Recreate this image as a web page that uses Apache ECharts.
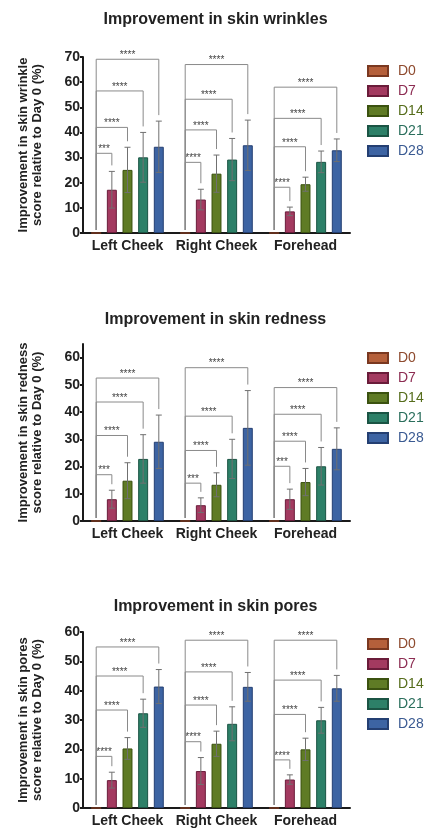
<!DOCTYPE html>
<html>
<head>
<meta charset="utf-8">
<script src="https://cdn.jsdelivr.net/npm/echarts@6/dist/echarts.min.js"></script>
<style>
html,body{margin:0;padding:0;background:#ffffff;}
#chart{width:431px;height:837px;}
</style>
</head>
<body>
<div id="chart"></div>
<script>
// ---------- DATA ----------
const categories = ['Left Cheek', 'Right Cheek', 'Forehead'];
const seriesNames = ['D0', 'D7', 'D14', 'D21', 'D28'];
const titles = ['Improvement in skin wrinkles', 'Improvement in skin redness', 'Improvement in skin pores'];
const yNames = [
  'Improvement in skin wrinkle\nscore relative to Day 0 (%)',
  'Improvement in skin redness\nscore relative to Day 0 (%)',
  'Improvement in skin pores\nscore relative to Day 0 (%)'
];
const yMax = [70, 65, 60];
const yTicks = [
  [0, 10, 20, 30, 40, 50, 60, 70],
  [0, 10, 20, 30, 40, 50, 60],
  [0, 10, 20, 30, 40, 50, 60]
];

// means: rows = D0, D7, D14, D21, D28 ; columns = categories
const wrinkleMean = [
  [0, 0, 0],
  [17.2, 13.3, 8.6],
  [25.1, 23.6, 19.4],
  [30.1, 29.2, 28.3],
  [34.3, 34.9, 32.9]
];
const wrinkleSD = [
  [0, 0, 0],
  [7.3, 4.1, 1.7],
  [9.0, 7.4, 2.8],
  [9.9, 8.4, 4.3],
  [10.2, 10.0, 4.5]
];
const wrinkleBracket = [ // per category: D7, D14, D21, D28 vs D0
  [31.7, 42.0, 56.5, 69.1],
  [28.1, 41.0, 53.2, 67.0],
  [18.2, 34.3, 45.6, 58.0]
];
const wrinkleStars = [
  ['***', '****', '****', '****'],
  ['****', '****', '****', '****'],
  ['****', '****', '****', '****']
];

const rednessMean = [
  [0, 0, 0],
  [8.0, 5.8, 8.0],
  [14.8, 13.3, 14.3],
  [22.8, 22.8, 20.1],
  [29.1, 34.2, 26.5]
];
const rednessSD = [
  [0, 0, 0],
  [3.3, 2.7, 3.7],
  [6.6, 4.4, 5.0],
  [8.9, 7.2, 6.9],
  [9.8, 13.7, 7.7]
];
const rednessBracket = [
  [17.0, 31.4, 43.7, 52.5],
  [13.9, 25.9, 38.5, 56.3],
  [20.1, 29.3, 39.2, 49.0]
];
const rednessStars = [
  ['***', '****', '****', '****'],
  ['***', '****', '****', '****'],
  ['***', '****', '****', '****']
];

const poresMean = [
  [0, 0, 0],
  [9.5, 12.6, 9.7],
  [20.3, 21.9, 20.0],
  [32.3, 28.7, 29.9],
  [41.4, 41.3, 40.8]
];
const poresSD = [
  [0, 0, 0],
  [2.7, 4.6, 1.6],
  [3.7, 4.3, 3.8],
  [4.8, 5.8, 4.4],
  [5.8, 4.9, 4.4]
];
const poresBracket = [
  [17.6, 33.4, 45.0, 54.9],
  [22.6, 35.1, 46.4, 57.2],
  [16.4, 31.9, 43.6, 57.2]
];
const poresStars = [
  ['****', '****', '****', '****'],
  ['****', '****', '****', '****'],
  ['****', '****', '****', '****']
];

// ---------- STYLE ----------
const fillColors = ['#b5603b', '#a33a60', '#5f7b25', '#2d8068', '#3d64a3'];
const borderColors = ['#7a3820', '#6a1c3a', '#3b5210', '#1b5444', '#243f72'];
const legendText = ['#8e4a2e', '#8c2c52', '#566d1c', '#2a6e5c', '#3a5a92'];
const FONT = '"Liberation Sans", Arial, sans-serif';
const BAR_FRAC = 0.112;
const GAP_FRAC = 0.57;

const grids = [
  { left: 83, top: 57, width: 267, height: 176 },
  { left: 83, top: 344, width: 267, height: 177 },
  { left: 83, top: 632, width: 267, height: 176 }
];
const titleTops = [7, 307, 594];
const legendTops = [59, 346, 632];

const means = [wrinkleMean, rednessMean, poresMean];
const sds = [wrinkleSD, rednessSD, poresSD];
const brackets = [wrinkleBracket, rednessBracket, poresBracket];
const stars = [wrinkleStars, rednessStars, poresStars];

function barX(api, c, bi) {
  const center = api.coord([c, 0]);
  const band = api.size([1, 0])[0];
  const w = band * BAR_FRAC;
  const step = w * (1 + GAP_FRAC);
  return center[0] + (bi - 2) * step;
}

const option = {
  animation: false,
  backgroundColor: '#ffffff',
  title: titles.map((t, i) => ({
    text: t, left: 'center', top: titleTops[i],
    textStyle: { fontFamily: FONT, fontSize: 16, fontWeight: 'bold', color: '#222' }
  })),
  legend: legendTops.map(top => ({
    orient: 'vertical', left: 362, top: top, icon: 'rect',
    itemWidth: 20, itemHeight: 10, itemGap: 6,
    data: seriesNames.map((n, k) => ({ name: n, textStyle: { color: legendText[k] } })),
    textStyle: { fontFamily: FONT, fontSize: 14, padding: [0, 0, 0, 5] },
    selectedMode: false
  })),
  grid: grids,
  xAxis: grids.map((g, i) => ({
    type: 'category', gridIndex: i, data: categories,
    axisLine: { lineStyle: { color: '#1a1a1a', width: 2 } },
    axisTick: { show: false },
    axisLabel: { interval: 0, fontFamily: FONT, fontSize: 14, fontWeight: 'bold', color: '#222', margin: 6 }
  })),
  yAxis: grids.map((g, i) => ({
    type: 'value', gridIndex: i, min: 0, max: yMax[i], interval: 10,
    name: yNames[i], nameLocation: 'middle', nameGap: 39,
    nameTextStyle: { fontFamily: FONT, fontSize: 13, fontWeight: 'bold', color: '#222', lineHeight: 14 },
    axisLine: { show: true, lineStyle: { color: '#1a1a1a', width: 2 } },
    axisTick: { show: true, length: 3, customValues: yTicks[i], lineStyle: { color: '#1a1a1a', width: 2 } },
    axisLabel: { customValues: yTicks[i], fontFamily: FONT, fontSize: 14, fontWeight: 'bold', color: '#222', margin: 3 },
    splitLine: { show: false }
  })),
  series: []
};

for (let gi = 0; gi < 3; gi++) {
  seriesNames.forEach((name, k) => {
    option.series.push({
      type: 'bar', name: name, xAxisIndex: gi, yAxisIndex: gi,
      data: means[gi][k],
      barWidth: (BAR_FRAC * 100) + '%', barGap: (GAP_FRAC * 100) + '%',
      itemStyle: { color: fillColors[k], borderColor: borderColors[k], borderWidth: 1 },
      z: 2
    });
  });
  // error bars
  const errData = [];
  for (let k = 1; k < 5; k++) {
    for (let c = 0; c < 3; c++) {
      errData.push([c, k, means[gi][k][c], sds[gi][k][c]]);
    }
  }
  option.series.push({
    type: 'custom', name: 'err' + gi, xAxisIndex: gi, yAxisIndex: gi, silent: true, z: 6,
    data: errData, encode: { x: 0, y: 2 },
    renderItem: function (params, api) {
      const c = api.value(0), k = api.value(1), m = api.value(2), s = api.value(3);
      const x = barX(api, c, k);
      const yt = api.coord([c, m + s])[1];
      const yb = api.coord([c, m - s])[1];
      const hw = 3;
      const st = { stroke: '#707070', lineWidth: 1 };
      return {
        type: 'group', children: [
          { type: 'line', shape: { x1: x, y1: yt, x2: x, y2: yb }, style: st },
          { type: 'line', shape: { x1: x - hw, y1: yt, x2: x + hw, y2: yt }, style: st },
          { type: 'line', shape: { x1: x - hw, y1: yb, x2: x + hw, y2: yb }, style: st }
        ]
      };
    }
  });
  // significance brackets
  const brData = [];
  const brStars = [];
  for (let c = 0; c < 3; c++) {
    for (let k = 0; k < 4; k++) {
      brData.push([c, k + 1, brackets[gi][c][k], means[gi][k + 1][c] + sds[gi][k + 1][c]]);
      brStars.push(stars[gi][c][k]);
    }
  }
  option.series.push({
    type: 'custom', name: 'br' + gi, xAxisIndex: gi, yAxisIndex: gi, silent: true, z: 7,
    data: brData, encode: { x: 0, y: 2 },
    renderItem: function (params, api) {
      const c = api.value(0), k = api.value(1), h = api.value(2), et = api.value(3);
      const xL = barX(api, c, 0);
      const xR = barX(api, c, k);
      const y0 = api.coord([c, 0])[1] - 3;
      const yH = api.coord([c, h])[1];
      const yE = api.coord([c, et])[1] - 6;
      return {
        type: 'group', children: [
          { type: 'polyline', shape: { points: [[xL, y0], [xL, yH], [xR, yH], [xR, yE]] },
            style: { stroke: '#8a8a8a', lineWidth: 1, fill: null } },
          { type: 'text', style: { text: brStars[params.dataIndex], x: (xL + xR) / 2, y: yH + 1,
            align: 'center', verticalAlign: 'bottom', textAlign: 'center', textVerticalAlign: 'bottom',
            font: '10px ' + FONT, fill: '#444' } }
        ]
      };
    }
  });
}

const chart = echarts.init(document.getElementById('chart'), null, { renderer: 'canvas' });
chart.setOption(option);
</script>
</body>
</html>
